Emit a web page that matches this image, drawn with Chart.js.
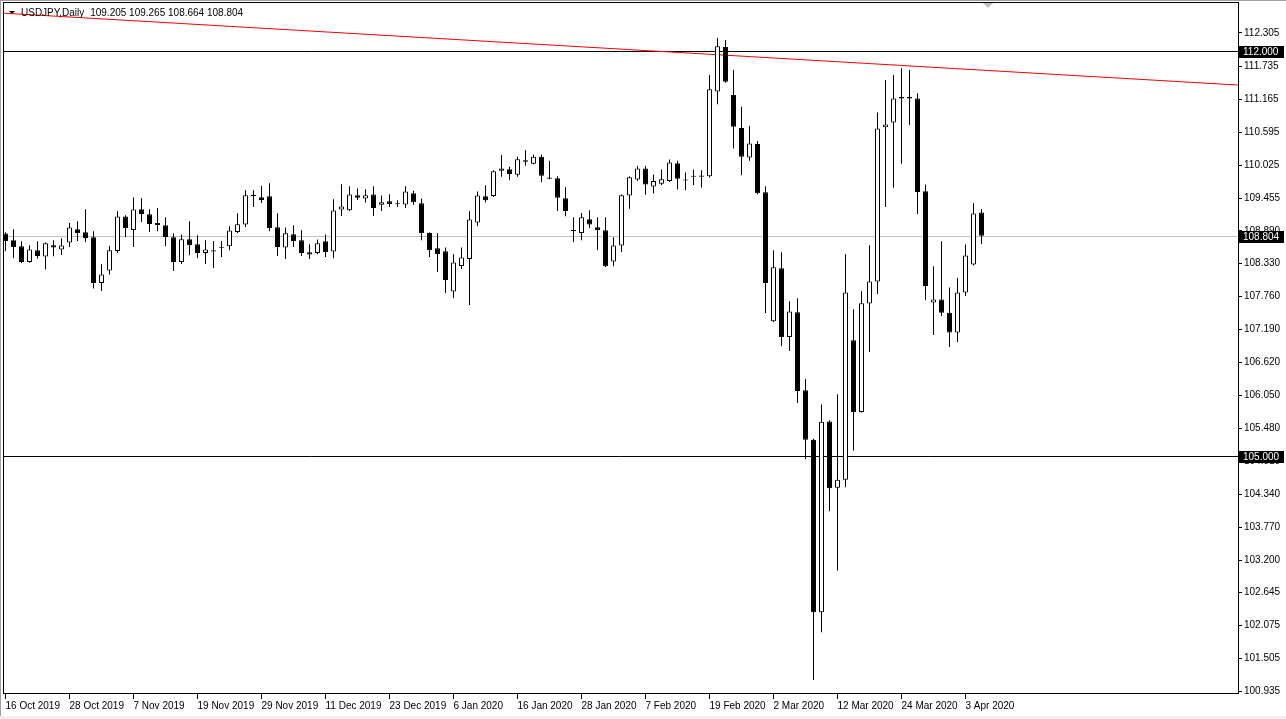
<!DOCTYPE html>
<html>
<head>
<meta charset="utf-8">
<title>USDJPY,Daily</title>
<script src="https://cdn.jsdelivr.net/npm/chart.js@4.4.1/dist/chart.umd.min.js"></script>
<style>
  html, body { margin: 0; padding: 0; background: #fff; }
  canvas { display: block; }
</style>
</head>
<body>
<canvas id="chart" width="1286" height="719"></canvas>
<script>
// daily bars, 16 Oct 2019 .. 7 Apr 2020
var dates = [
  '16 Oct 2019','17 Oct 2019','18 Oct 2019','21 Oct 2019','22 Oct 2019','23 Oct 2019','24 Oct 2019','25 Oct 2019',
  '28 Oct 2019','29 Oct 2019','30 Oct 2019','31 Oct 2019','1 Nov 2019','4 Nov 2019','5 Nov 2019','6 Nov 2019',
  '7 Nov 2019','8 Nov 2019','11 Nov 2019','12 Nov 2019','13 Nov 2019','14 Nov 2019','15 Nov 2019','18 Nov 2019',
  '19 Nov 2019','20 Nov 2019','21 Nov 2019','22 Nov 2019','25 Nov 2019','26 Nov 2019','27 Nov 2019','28 Nov 2019',
  '29 Nov 2019','2 Dec 2019','3 Dec 2019','4 Dec 2019','5 Dec 2019','6 Dec 2019','9 Dec 2019','10 Dec 2019',
  '11 Dec 2019','12 Dec 2019','13 Dec 2019','16 Dec 2019','17 Dec 2019','18 Dec 2019','19 Dec 2019','20 Dec 2019',
  '23 Dec 2019','24 Dec 2019','26 Dec 2019','27 Dec 2019','30 Dec 2019','31 Dec 2019','2 Jan 2020','3 Jan 2020',
  '6 Jan 2020','7 Jan 2020','8 Jan 2020','9 Jan 2020','10 Jan 2020','13 Jan 2020','14 Jan 2020','15 Jan 2020',
  '16 Jan 2020','17 Jan 2020','20 Jan 2020','21 Jan 2020','22 Jan 2020','23 Jan 2020','24 Jan 2020','27 Jan 2020',
  '28 Jan 2020','29 Jan 2020','30 Jan 2020','31 Jan 2020','3 Feb 2020','4 Feb 2020','5 Feb 2020','6 Feb 2020',
  '7 Feb 2020','10 Feb 2020','11 Feb 2020','12 Feb 2020','13 Feb 2020','14 Feb 2020','17 Feb 2020','18 Feb 2020',
  '19 Feb 2020','20 Feb 2020','21 Feb 2020','24 Feb 2020','25 Feb 2020','26 Feb 2020','27 Feb 2020','28 Feb 2020',
  '2 Mar 2020','3 Mar 2020','4 Mar 2020','5 Mar 2020','6 Mar 2020','9 Mar 2020','10 Mar 2020','11 Mar 2020',
  '12 Mar 2020','13 Mar 2020','16 Mar 2020','17 Mar 2020','18 Mar 2020','19 Mar 2020','20 Mar 2020','23 Mar 2020',
  '24 Mar 2020','25 Mar 2020','26 Mar 2020','27 Mar 2020','30 Mar 2020','31 Mar 2020','1 Apr 2020','2 Apr 2020',
  '3 Apr 2020','6 Apr 2020','7 Apr 2020'
];

var opens = [
  108.844,108.728,108.624,108.353,108.555,108.446,108.641,108.567,108.688,108.918,108.866,108.780,107.990,108.204,108.543,109.137,
  108.906,109.263,109.177,109.027,108.987,108.780,108.353,108.745,108.659,108.508,108.555,108.600,108.624,108.871,108.999,109.511,
  109.471,109.488,108.952,108.602,108.831,108.728,108.520,108.508,108.711,108.532,109.258,109.246,109.505,109.448,109.517,109.338,
  109.402,109.352,109.345,109.540,109.367,108.854,108.590,108.538,107.841,108.284,108.405,109.034,109.488,109.493,109.925,109.955,
  109.856,110.110,110.046,110.167,109.811,109.799,109.454,108.890,108.854,109.091,108.952,108.901,108.360,108.636,109.500,109.777,
  109.967,109.656,109.701,109.752,110.058,109.757,109.839,109.846,109.834,111.297,112.063,111.233,110.663,110.157,110.387,109.557,
  107.328,108.244,107.057,107.484,106.136,105.284,102.305,105.600,104.454,104.593,107.000,105.761,107.634,108.014,110.680,110.762,
  111.199,111.199,111.176,109.575,107.651,107.703,107.478,107.133,107.824,108.308,109.205
];
var highs = [
  108.866,108.918,108.711,108.641,108.711,108.690,108.728,108.762,109.027,109.056,109.263,108.883,108.313,108.629,109.229,109.160,
  109.466,109.454,109.263,109.286,109.125,108.849,108.826,109.056,108.814,108.728,108.716,108.716,108.970,109.194,109.592,109.592,
  109.666,109.713,109.194,108.947,108.987,108.901,108.659,108.740,108.826,109.436,109.695,109.661,109.621,109.609,109.661,109.500,
  109.523,109.419,109.661,109.580,109.448,108.866,108.854,108.602,108.486,108.602,109.229,109.569,109.678,109.937,110.197,109.994,
  110.167,110.283,110.209,110.209,110.098,109.834,109.644,109.125,109.199,109.246,109.125,109.125,108.780,109.517,109.834,110.007,
  110.007,109.863,109.949,110.122,110.098,109.898,109.949,109.937,111.579,112.218,112.184,111.665,111.031,110.698,110.439,109.661,
  108.555,108.520,107.674,107.726,106.331,105.300,105.894,105.620,106.067,108.486,107.535,107.847,108.641,110.934,111.493,111.579,
  111.695,111.665,111.263,109.690,108.279,108.711,107.910,108.076,108.653,109.367,109.265
];
var lows = [
  108.538,108.422,108.336,108.339,108.412,108.221,108.451,108.474,108.612,108.716,108.698,107.893,107.852,108.135,108.508,108.785,
  108.612,109.044,108.871,108.883,108.624,108.197,108.318,108.469,108.422,108.318,108.249,108.439,108.555,108.854,108.958,109.303,
  109.372,108.883,108.457,108.405,108.612,108.457,108.405,108.486,108.439,108.417,109.148,109.234,109.424,109.379,109.148,109.234,
  109.303,109.303,109.286,109.338,108.728,108.439,108.180,107.817,107.731,108.232,107.610,108.975,109.379,109.476,109.822,109.765,
  109.822,110.012,110.041,109.730,109.780,109.234,109.143,108.698,108.728,108.940,108.560,108.266,108.279,108.526,109.269,109.752,
  109.511,109.535,109.683,109.735,109.604,109.592,109.683,109.638,109.811,111.073,111.446,110.312,109.851,110.098,109.523,107.472,
  107.311,106.901,106.815,105.916,104.949,101.137,101.959,104.050,103.025,104.465,105.099,105.756,106.800,107.800,109.303,109.632,
  110.046,110.715,109.182,107.691,107.091,107.420,106.884,106.970,107.765,108.290,108.664
];
var closes = [
  108.716,108.612,108.353,108.567,108.457,108.676,108.602,108.636,108.947,108.854,108.768,107.990,108.135,108.555,109.137,108.940,
  109.258,109.182,109.009,108.992,108.785,108.353,108.745,108.647,108.508,108.567,108.532,108.605,108.895,109.004,109.505,109.488,
  109.424,108.940,108.612,108.849,108.716,108.508,108.481,108.676,108.526,109.241,109.310,109.517,109.459,109.505,109.286,109.384,
  109.355,109.349,109.569,109.384,108.854,108.560,108.491,108.042,108.342,108.429,109.085,109.500,109.419,109.920,109.967,109.873,
  110.127,110.081,110.167,109.839,109.787,109.459,109.234,108.886,109.125,108.999,108.906,108.279,108.636,109.505,109.816,109.967,
  109.690,109.752,109.782,110.070,109.787,109.761,109.822,109.822,111.332,112.075,111.463,110.686,110.167,110.399,109.540,107.990,
  108.261,107.057,107.496,106.124,105.284,102.305,105.595,104.447,104.593,107.824,105.761,107.639,108.014,110.658,110.727,111.176,
  111.176,111.176,109.562,107.938,107.703,107.478,107.133,107.824,108.463,109.189,108.804
];

var yTickLabels = ['112.305','111.735','111.165','110.595','110.025','109.455','108.890','108.330','107.760','107.190','106.620',
  '106.050','105.480','104.910','104.340','103.770','103.200','102.645','102.075','101.505','100.935'];
var xTickIndex = [0, 8, 16, 24, 32, 40, 48, 56, 64, 72, 80, 88, 96, 104, 112, 120];

var levelLines = [112.000, 105.000];
var bidPrice = 108.804;
var trendX = [-0.7, 154.1];
var trendY = [112.651, 111.406];

var FONT = "'Liberation Sans', Arial, sans-serif";
Chart.defaults.font.family = FONT;
Chart.defaults.font.size = 10;
Chart.defaults.color = '#000';

var bodies = dates.map(function (d, i) { return { x: i, y: [opens[i], closes[i]] }; });
var wicks = dates.map(function (d, i) { return { x: i, y: [lows[i], highs[i]] }; });
var bodyColors = dates.map(function (d, i) { return closes[i] >= opens[i] ? '#ffffff' : '#000000'; });
var trend = trendX.map(function (v, i) { return { x: v, y: trendY[i] }; });

var mt4 = {
  id: 'mt4',
  beforeDraw: function (chart) {
    var ctx = chart.ctx;
    ctx.save();
    ctx.fillStyle = '#ffffff';
    ctx.fillRect(0, 0, chart.width, chart.height);
    ctx.fillStyle = '#f0f0f0';
    ctx.fillRect(0, 716, chart.width, 3);
    ctx.fillStyle = '#a0a0a0';
    ctx.fillRect(0, 0, 1, 716);
    ctx.fillRect(0, 0, chart.width, 1);
    ctx.restore();
  },
  beforeDatasetsDraw: function (chart) {
    var ctx = chart.ctx, a = chart.chartArea, y = chart.scales.y;
    ctx.save();
    ctx.lineWidth = 1;
    function hline(v, col) {
      var py = Math.round(y.getPixelForValue(v)) + 0.5;
      ctx.strokeStyle = col;
      ctx.beginPath();
      ctx.moveTo(a.left, py);
      ctx.lineTo(a.right, py);
      ctx.stroke();
    }
    hline(bidPrice, '#c0c0c0');
    levelLines.forEach(function (v) { hline(v, '#000000'); });
    ctx.restore();
  },
  afterDraw: function (chart) {
    var ctx = chart.ctx, a = chart.chartArea, y = chart.scales.y, x = chart.scales.x;
    ctx.save();
    // frame
    ctx.strokeStyle = '#000';
    ctx.lineWidth = 1;
    ctx.strokeRect(a.left + 0.5, a.top + 0.5, a.right - a.left, a.bottom - a.top);

    // price tags on the axis
    ctx.font = '10px ' + FONT;
    ctx.textBaseline = 'middle';
    ctx.textAlign = 'left';
    levelLines.concat([bidPrice]).forEach(function (v) {
      var py = Math.round(y.getPixelForValue(v));
      ctx.fillStyle = '#000';
      ctx.fillRect(a.right + 1, py - 5, 45, 12);
      ctx.fillStyle = '#fff';
      ctx.fillText(v.toFixed(3), a.right + 5, py + 1);
    });

    // shift marker
    var sx = Math.round(x.getPixelForValue(122.8));
    ctx.fillStyle = '#c0c0c0';
    ctx.beginPath();
    ctx.moveTo(sx - 5, 3);
    ctx.lineTo(sx + 5, 3);
    ctx.lineTo(sx, 8);
    ctx.closePath();
    ctx.fill();

    // header
    ctx.fillStyle = '#000';
    ctx.beginPath();
    ctx.moveTo(9, 11);
    ctx.lineTo(15, 11);
    ctx.lineTo(12, 14);
    ctx.closePath();
    ctx.fill();
    var last = dates.length - 1;
    ctx.fillStyle = '#000';
    ctx.fillText('USDJPY,Daily', 21, 13);
    var w = ctx.measureText('USDJPY,Daily').width;
    ctx.fillText([opens[last], highs[last], lows[last], closes[last]].map(function (v) { return v.toFixed(3); }).join(' '), 21 + w + 6, 13);
    ctx.restore();
  }
};

new Chart(document.getElementById('chart'), {
  type: 'bar',
  data: {
    datasets: [
      {
        type: 'bar',
        label: 'body',
        data: bodies,
        backgroundColor: bodyColors,
        borderColor: '#000',
        borderWidth: 1,
        borderSkipped: false,
        barThickness: 5,
        minBarLength: 1,
        inflateAmount: 0,
        grouped: false,
        order: 1
      },
      {
        type: 'bar',
        label: 'wick',
        data: wicks,
        backgroundColor: '#000',
        borderWidth: 0,
        barThickness: 1,
        inflateAmount: 0,
        grouped: false,
        order: 2
      },
      {
        type: 'line',
        label: 'trend',
        data: trend,
        borderColor: '#ff0000',
        borderWidth: 1,
        pointRadius: 0,
        fill: false,
        tension: 0,
        clip: 0,
        order: 3
      }
    ]
  },
  options: {
    responsive: false,
    animation: false,
    events: [],
    layout: { autoPadding: false, padding: { left: 3, top: 2, right: 0, bottom: 0 } },
    plugins: { legend: { display: false }, tooltip: { enabled: false } },
    scales: {
      x: {
        type: 'linear',
        position: 'bottom',
        min: -0.3125,
        max: 154.0625,
        offset: false,
        grid: { offset: false, drawOnChartArea: false, drawTicks: true, tickLength: 6, color: '#000' },
        border: { display: false },
        ticks: {
          align: 'start', autoSkip: false, maxRotation: 0, minRotation: 0, padding: 1,
          callback: function (v) { return dates[v] || ''; }
        },
        afterBuildTicks: function (s) { s.ticks = xTickIndex.map(function (v) { return { value: v }; }); },
        afterFit: function (s) { s.height = 26; s.paddingLeft = 0; s.paddingRight = 0; }
      },
      y: {
        type: 'linear',
        position: 'right',
        min: 100.912,
        max: 112.840,
        grid: { drawOnChartArea: false, drawTicks: true, tickLength: 4, color: '#000' },
        border: { display: true, color: '#000' },
        ticks: {
          padding: 2,
          callback: function (v, i) { return yTickLabels[i]; }
        },
        afterBuildTicks: function (s) { s.ticks = yTickLabels.map(function (t) { return { value: parseFloat(t) }; }); },
        afterFit: function (s) { s.width = 48; s.paddingTop = 0; s.paddingBottom = 0; }
      }
    }
  },
  plugins: [mt4]
});
</script>
</body>
</html>
